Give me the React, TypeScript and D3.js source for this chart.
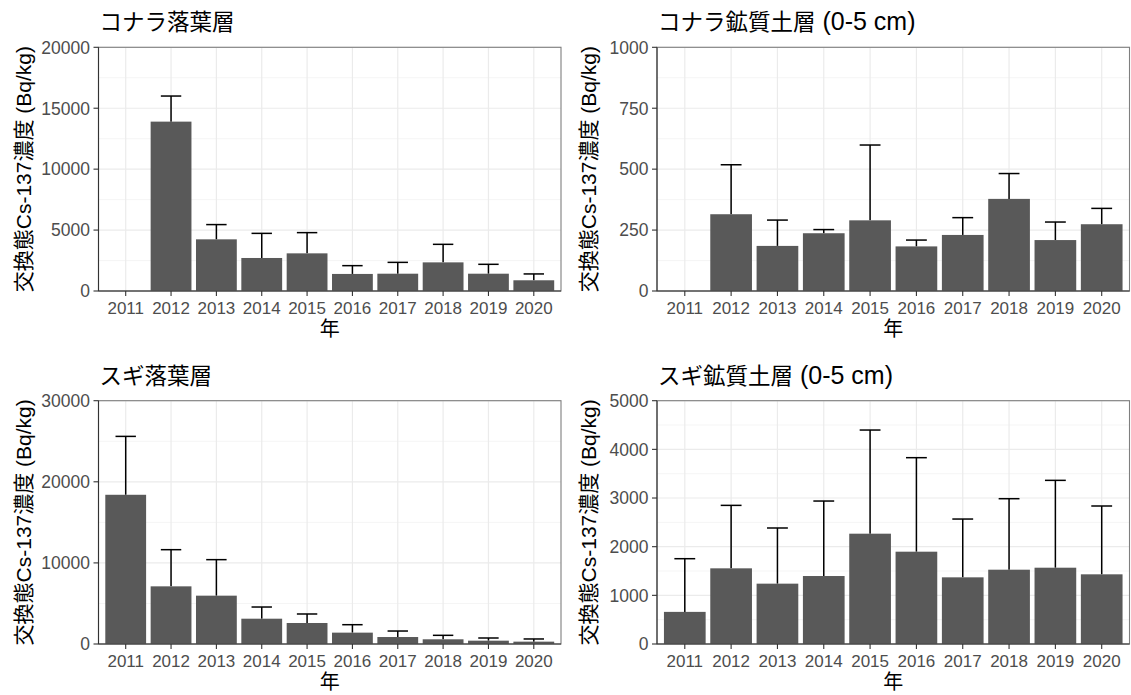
import React from "react";
import * as d3 from "d3";

// Survey years on the x axis
const years = ["2011", "2012", "2013", "2014", "2015", "2016", "2017", "2018", "2019", "2020"];

// Exchangeable Cs-137 concentration (Bq/kg): mean and standard deviation per year
const konaraLitterMean = [null, 13900, 4240, 2710, 3090, 1400, 1420, 2350, 1420, 880];
const konaraLitterSd = [null, 2100, 1210, 2020, 1700, 680, 930, 1480, 770, 520];

const konaraSoilMean = [null, 315, 185, 237, 290, 183, 230, 378, 209, 274];
const konaraSoilSd = [null, 203, 106, 15, 309, 26, 71, 104, 74, 65];

const sugiLitterMean = [18400, 7110, 5960, 3120, 2590, 1400, 860, 580, 410, 290];
const sugiLitterSd = [7200, 4520, 4440, 1440, 1110, 980, 740, 490, 330, 330];

const sugiSoilMean = [660, 1555, 1240, 1397, 2267, 1897, 1370, 1527, 1568, 1432];
const sugiSoilSd = [1093, 1294, 1144, 1541, 2130, 1932, 1198, 1459, 1795, 1404];

// Y-axis tick values for each panel (last one is the axis limit)
const konaraLitterTicks = [0, 5000, 10000, 15000, 20000];
const konaraSoilTicks = [0, 250, 500, 750, 1000];
const sugiLitterTicks = [0, 10000, 20000, 30000];
const sugiSoilTicks = [0, 1000, 2000, 3000, 4000, 5000];

const panelTitles = ["コナラ落葉層", "コナラ鉱質土層 (0-5 cm)", "スギ落葉層", "スギ鉱質土層 (0-5 cm)"];
const yTitle = "交換態Cs-137濃度 (Bq/kg)";
const xTitle = "年";

const FONT = "'Liberation Sans', Arial, 'Noto Sans CJK JP', sans-serif";

// Split a title into Latin and CJK runs so the Latin part can be sized separately
function titleRuns(s: string) {
  return s.match(/[\u0020-\u007E]+|[^\u0020-\u007E]+/g) || [];
}

type PanelProps = {
  title: string;
  mean: (number | null)[];
  sd: (number | null)[];
  ticks: number[];
  x0: number;
  x1: number;
  y0: number;
  y1: number;
  yTitleX: number;
};

function Panel({ title, mean, sd, ticks, x0, x1, y0, y1, yTitleX }: PanelProps) {
  const x = d3.scaleBand<string>().domain(years).range([x0, x1]).paddingInner(0.1).paddingOuter(0.15);
  const yMax = ticks[ticks.length - 1];
  const y = d3.scaleLinear().domain([0, yMax]).range([y1, y0]);
  const minor = ticks.slice(0, -1).map((t, i) => (t + ticks[i + 1]) / 2);
  const bw = x.bandwidth();
  const capW = x.step() * 0.45;
  const cx = (yr: string) => (x(yr) as number) + bw / 2;

  return (
    <g>
      <rect x={x0} y={y0} width={x1 - x0} height={y1 - y0} fill="#fff" />
      {minor.map((m) => (
        <line key={"mi" + m} x1={x0} x2={x1} y1={y(m)} y2={y(m)} stroke="#F2F2F2" strokeWidth={0.8} />
      ))}
      {ticks.map((t) => (
        <line key={"ma" + t} x1={x0} x2={x1} y1={y(t)} y2={y(t)} stroke="#EBEBEB" strokeWidth={1.2} />
      ))}
      {years.map((yr) => (
        <line key={"gx" + yr} x1={cx(yr)} x2={cx(yr)} y1={y0} y2={y1} stroke="#EBEBEB" strokeWidth={1.2} />
      ))}
      {/* error bars first, so the columns hide their lower half */}
      {years.map((yr, i) => {
        const m = mean[i];
        const s = sd[i];
        if (m == null || s == null) return null;
        const top = y(m + s);
        const c = cx(yr);
        return (
          <g key={"e" + yr} stroke="#000" strokeWidth={1.5}>
            <line x1={c} x2={c} y1={y(m)} y2={top} />
            <line x1={c - capW / 2} x2={c + capW / 2} y1={top} y2={top} />
          </g>
        );
      })}
      {years.map((yr, i) => {
        const m = mean[i];
        if (m == null) return null;
        return <rect key={"b" + yr} x={x(yr)} y={y(m)} width={bw} height={y(0) - y(m)} fill="#595959" />;
      })}
      <rect x={x0} y={y0} width={x1 - x0} height={y1 - y0} fill="none" stroke="#7F7F7F" strokeWidth={1.1} />
      <line x1={x0} x2={x0} y1={y0} y2={y1} stroke="#333" strokeWidth={1.1} />
      <line x1={x0} x2={x1} y1={y1} y2={y1} stroke="#333" strokeWidth={1.1} />
      {ticks.map((t) => (
        <g key={"yt" + t}>
          <line x1={x0 - 5} x2={x0} y1={y(t)} y2={y(t)} stroke="#333" strokeWidth={1.1} />
          <text x={x0 - 8.5} y={y(t)} dy="0.36em" textAnchor="end" fontSize={17.5} fill="#4D4D4D" fontFamily={FONT}>
            {t}
          </text>
        </g>
      ))}
      {years.map((yr) => (
        <g key={"xt" + yr}>
          <line x1={cx(yr)} x2={cx(yr)} y1={y1} y2={y1 + 5} stroke="#333" strokeWidth={1.1} />
          <text x={cx(yr)} y={y1 + 23} textAnchor="middle" fontSize={17} fill="#4D4D4D" fontFamily={FONT}>
            {yr}
          </text>
        </g>
      ))}
      <text x={(x0 + x1) / 2} y={y1 + 45} textAnchor="middle" fontSize={20} fill="#000" fontFamily={FONT}>
        {xTitle}
      </text>
      <text
        transform={`translate(${yTitleX},${(y0 + y1) / 2}) rotate(-90)`}
        textAnchor="middle"
        dy="0.36em"
        fontSize={21}
        fill="#000"
        fontFamily={FONT}
      >
        {yTitle}
      </text>
      <text x={x0 + 1} y={y0 - 17} fontSize={22.5} fill="#000" fontFamily={FONT}>
        {titleRuns(title).map((run, i) =>
          /^[\u0020-\u007E]+$/.test(run) ? (
            <tspan key={i} fontSize={25}>
              {run}
            </tspan>
          ) : (
            <tspan key={i}>{run}</tspan>
          )
        )}
      </text>
    </g>
  );
}

export default function App() {
  const left = { x0: 98.5, x1: 561, yTitleX: 23 };
  const right = { x0: 657, x1: 1129.5, yTitleX: 588 };
  const top = { y0: 47.3, y1: 291 };
  const bottom = { y0: 400.7, y1: 644 };
  return (
    <svg
      width={1131}
      height={695}
      style={{ position: "absolute", left: 0, top: 0, background: "#fff" }}
    >
      <rect width={1131} height={695} fill="#fff" />
      <Panel title={panelTitles[0]} mean={konaraLitterMean} sd={konaraLitterSd} ticks={konaraLitterTicks} {...left} {...top} />
      <Panel title={panelTitles[1]} mean={konaraSoilMean} sd={konaraSoilSd} ticks={konaraSoilTicks} {...right} {...top} />
      <Panel title={panelTitles[2]} mean={sugiLitterMean} sd={sugiLitterSd} ticks={sugiLitterTicks} {...left} {...bottom} />
      <Panel title={panelTitles[3]} mean={sugiSoilMean} sd={sugiSoilSd} ticks={sugiSoilTicks} {...right} {...bottom} />
    </svg>
  );
}
